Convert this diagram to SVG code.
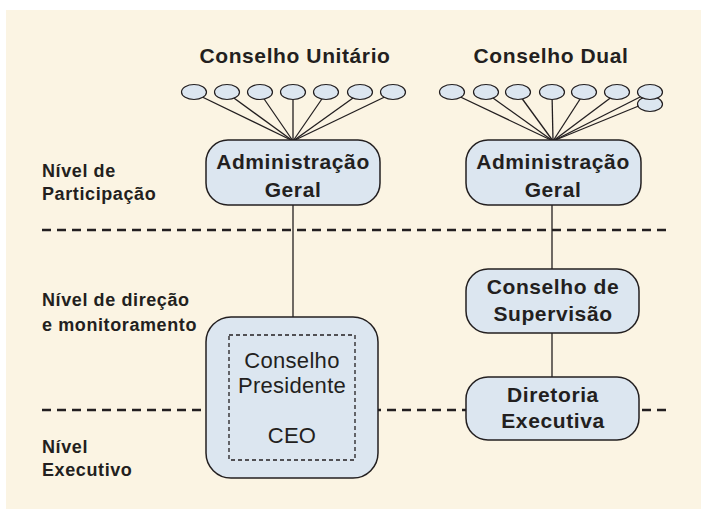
<svg xmlns="http://www.w3.org/2000/svg" width="701" height="514" viewBox="0 0 701 514">
<style>
.bg{fill:#FBF4E3}
.node{fill:#DCE6F0;stroke:#231F20;stroke-width:1.5}
.ell{fill:#DCE6F0;stroke:#231F20;stroke-width:1.2}
.ln{stroke:#231F20;stroke-width:1.3;fill:none}
.dash{stroke:#231F20;stroke-width:2.5;stroke-dasharray:9 6;fill:none}
.inner{stroke:#231F20;stroke-width:1.3;stroke-dasharray:4 3;fill:none}
text{font-family:'Liberation Sans',sans-serif;fill:#231F20}
.t{font-size:21px;font-weight:bold;text-anchor:middle;letter-spacing:0.6px}
.nb{font-size:21px;font-weight:bold;text-anchor:middle;letter-spacing:0.6px}
.nr{font-size:22px;text-anchor:middle;letter-spacing:0.3px}
.lab{font-size:18px;font-weight:bold;letter-spacing:0.6px}
</style>
<rect width="701" height="514" fill="#FFFFFF"/>
<rect class="bg" x="6" y="10" width="695" height="499"/>

<g id="titles">
<text class="t" x="295" y="63">Conselho Unitário</text>
<text class="t" x="551" y="63">Conselho Dual</text>
</g>

<g id="levels">
<text class="lab" x="42" y="177">Nível de</text>
<text class="lab" x="42" y="200">Participação</text>
<text class="lab" x="42" y="306">Nível de direção</text>
<text class="lab" x="42" y="331">e monitoramento</text>
<text class="lab" x="42" y="453">Nível</text>
<text class="lab" x="42" y="476">Executivo</text>
</g>

<g id="connectors">
<line class="dash" x1="42" y1="230" x2="670" y2="230"/>
<line class="dash" x1="42" y1="410" x2="670" y2="410"/>
<line class="ln" x1="194" y1="93" x2="293" y2="141"/>
<line class="ln" x1="227" y1="93" x2="293" y2="141"/>
<line class="ln" x1="260" y1="93" x2="293" y2="141"/>
<line class="ln" x1="293" y1="93" x2="293" y2="141"/>
<line class="ln" x1="326" y1="93" x2="293" y2="141"/>
<line class="ln" x1="360" y1="93" x2="293" y2="141"/>
<line class="ln" x1="393" y1="93" x2="293" y2="141"/>
<line class="ln" x1="452" y1="93" x2="553" y2="141"/>
<line class="ln" x1="486" y1="93" x2="553" y2="141"/>
<line class="ln" x1="518" y1="93" x2="553" y2="141"/>
<line class="ln" x1="552" y1="93" x2="553" y2="141"/>
<line class="ln" x1="584" y1="93" x2="553" y2="141"/>
<line class="ln" x1="617" y1="93" x2="553" y2="141"/>
<line class="ln" x1="648" y1="93" x2="553" y2="141"/>
<line class="ln" x1="646" y1="103" x2="553" y2="141"/>
<line class="ln" x1="293" y1="205" x2="293" y2="317"/>
<line class="ln" x1="552" y1="205" x2="552" y2="269"/>
<line class="ln" x1="552" y1="333" x2="552" y2="377"/>
</g>

<g id="members-unitario">
<ellipse class="ell" cx="194" cy="92" rx="12.5" ry="7.5"/>
<ellipse class="ell" cx="227" cy="92" rx="12.5" ry="7.5"/>
<ellipse class="ell" cx="260" cy="92" rx="12.5" ry="7.5"/>
<ellipse class="ell" cx="293" cy="92" rx="12.5" ry="7.5"/>
<ellipse class="ell" cx="326" cy="92" rx="12.5" ry="7.5"/>
<ellipse class="ell" cx="360" cy="92" rx="12.5" ry="7.5"/>
<ellipse class="ell" cx="393" cy="92" rx="12.5" ry="7.5"/>
</g>

<g id="members-dual">
<ellipse class="ell" cx="452" cy="92" rx="12.5" ry="7.5"/>
<ellipse class="ell" cx="486" cy="92" rx="12.5" ry="7.5"/>
<ellipse class="ell" cx="518" cy="92" rx="12.5" ry="7.5"/>
<ellipse class="ell" cx="552" cy="92" rx="12.5" ry="7.5"/>
<ellipse class="ell" cx="584" cy="92" rx="12.5" ry="7.5"/>
<ellipse class="ell" cx="617" cy="92" rx="12.5" ry="7.5"/>
<ellipse class="ell" cx="650" cy="104" rx="12.5" ry="7.5"/>
<ellipse class="ell" cx="650" cy="92" rx="12.5" ry="7.5"/>
</g>

<g id="adm-unitario">
<rect class="node" x="206" y="140" width="174" height="65" rx="22"/>
<text class="nb" x="293" y="169">Administração</text>
<text class="nb" x="293" y="197">Geral</text>
</g>

<g id="adm-dual">
<rect class="node" x="466" y="140" width="175" height="65" rx="22"/>
<text class="nb" x="553" y="169">Administração</text>
<text class="nb" x="553" y="197">Geral</text>
</g>

<g id="conselho-presidente">
<rect class="node" x="206" y="317" width="172" height="161" rx="25"/>
<rect class="inner" x="229" y="335" width="126" height="125"/>
<text class="nr" x="292" y="368">Conselho</text>
<text class="nr" x="292" y="393">Presidente</text>
<text class="nr" x="292" y="443">CEO</text>
</g>

<g id="conselho-supervisao">
<rect class="node" x="466" y="269" width="173" height="64" rx="22"/>
<text class="nb" x="553" y="294">Conselho de</text>
<text class="nb" x="553" y="321">Supervisão</text>
</g>

<g id="diretoria-executiva">
<rect class="node" x="466" y="377" width="173" height="63" rx="22"/>
<text class="nb" x="553" y="402">Diretoria</text>
<text class="nb" x="553" y="428">Executiva</text>
</g>
</svg>
